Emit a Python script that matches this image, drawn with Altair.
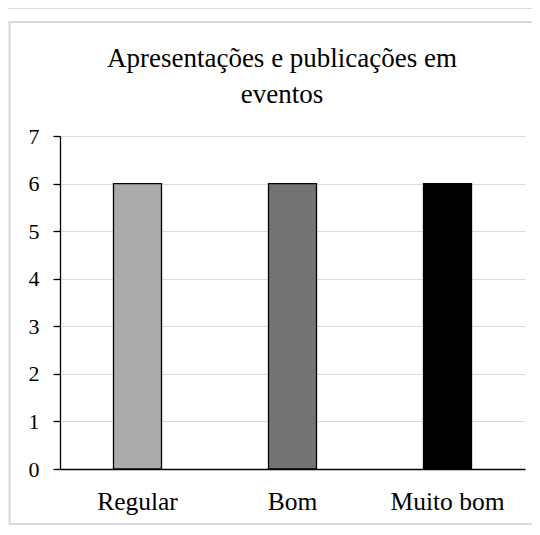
import altair as alt
import pandas as pd

categories = ["Regular", "Bom", "Muito bom"]
values = [6, 6, 6]
bar_colors = ["#ababab", "#737373", "#000000"]
title_lines = ["Apresentações e publicações em", "eventos"]
y_ticks = [0, 1, 2, 3, 4, 5, 6, 7]

df = pd.DataFrame({"cat": categories, "val": values, "color": bar_colors})

W, H = 465, 333
FONT = "Liberation Serif"
FRAME = "#d9d9d9"

bars = alt.Chart(df).mark_bar(width=48, stroke="black", strokeWidth=1.3).encode(
    x=alt.X("cat:N", sort=categories, title=None,
            scale=alt.Scale(paddingInner=0, paddingOuter=0),
            axis=alt.Axis(labelAngle=0, ticks=False, domainColor="black", domainWidth=1.3,
                          labelFont=FONT, labelFontSize=25.5, labelColor="black",
                          labelPadding=20, grid=False)),
    y=alt.Y("val:Q", title=None,
            scale=alt.Scale(domain=[0, 7], nice=False),
            axis=alt.Axis(values=y_ticks, tickSize=7, tickColor="black", tickWidth=1.3,
                          domainColor="black", domainWidth=1.3,
                          labelFont=FONT, labelFontSize=22, labelColor="black",
                          labelPadding=14, gridColor=FRAME, gridWidth=1)),
    color=alt.Color("cat:N", sort=categories,
                    scale=alt.Scale(domain=categories, range=bar_colors), legend=None),
)

one = pd.DataFrame({"a": [0]})
frame_top = alt.Chart(one).mark_rule(stroke=FRAME, strokeWidth=2).encode(
    x=alt.value(-51.5), x2=alt.value(480), y=alt.value(-114))
frame_bottom = alt.Chart(one).mark_rule(stroke=FRAME, strokeWidth=2).encode(
    x=alt.value(-51.5), x2=alt.value(480), y=alt.value(388))
frame_left = alt.Chart(one).mark_rule(stroke=FRAME, strokeWidth=2).encode(
    x=alt.value(-50.5), y=alt.value(-114), y2=alt.value(388))
prev_bottom = alt.Chart(one).mark_rule(stroke=FRAME, strokeWidth=2).encode(
    x=alt.value(-51.5), x2=alt.value(480), y=alt.value(-128))

tdf = pd.DataFrame({"t": title_lines, "yy": [-69, -33]})
title = alt.Chart(tdf).mark_text(
    font=FONT, fontSize=27, color="black", align="center", baseline="alphabetic"
).encode(
    text="t:N", x=alt.value(222), y=alt.Y("yy:Q", scale=None, axis=None)
)

chart = alt.layer(frame_top, frame_bottom, frame_left, prev_bottom, bars, title).properties(
    width=W, height=H,
    padding={"left": 52, "top": 128, "right": 7, "bottom": 58},
    autosize=alt.AutoSizeParams(type="none"),
    background="white",
).configure_view(stroke=None)

chart.save("out.html", embed_options={"renderer": "svg", "actions": False})
